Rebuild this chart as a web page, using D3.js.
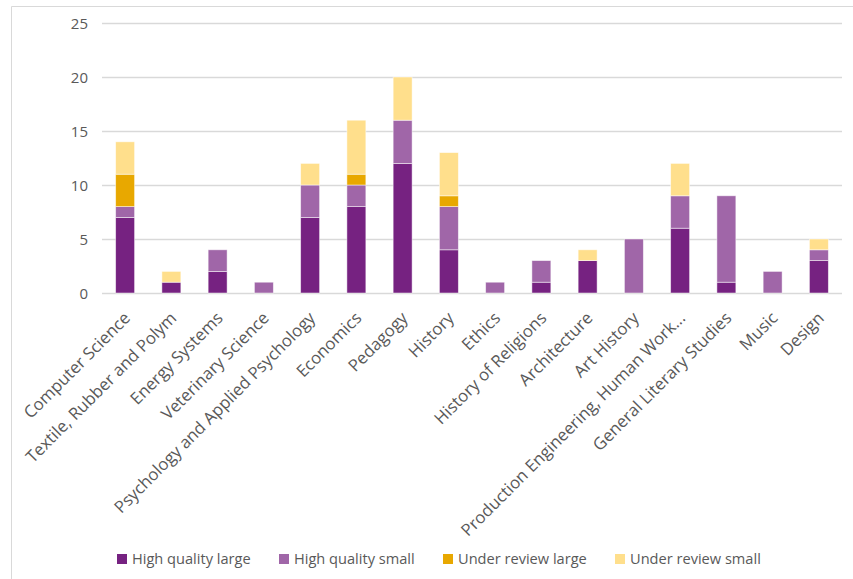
<!DOCTYPE html>
<html><head><meta charset="utf-8">
<script src="https://cdn.jsdelivr.net/npm/d3@7"></script>
<style>
body{margin:0;background:#fff;}
text{font-family:"Open Sans",sans-serif;fill:#595959;}
</style></head>
<body><svg id="c" width="853" height="579"></svg>
<script>
const categories = ["Computer Science","Textile, Rubber and Polym","Energy Systems","Veterinary Science","Psychology and Applied Psychology","Economics","Pedagogy","History","Ethics","History of Religions","Architecture","Art History","Production Engineering, Human Work...","General Literary Studies","Music","Design"];
const seriesNames = ["High quality large","High quality small","Under review large","Under review small"];
const highQualityLarge = [7,1,2,0,7,8,12,4,0,1,3,0,6,1,0,3];
const highQualitySmall = [1,0,2,1,3,2,4,4,1,2,0,5,3,8,2,1];
const underReviewLarge = [3,0,0,0,0,1,0,1,0,0,0,0,0,0,0,0];
const underReviewSmall = [3,1,0,0,2,5,4,4,0,0,1,0,3,0,0,1];
const yTicks = [0,5,10,15,20,25];
const colors = ["#762281","#a066a8","#e8a800","#ffdf8c"];

(function(){
const svg = d3.select("#c");
svg.append("path").attr("d","M11.5,579 V6.5 H853").attr("fill","none").attr("stroke","#d9d9d9").attr("stroke-width",1);

const pL=102, pR=842, pT=23, pB=293;
const x = d3.scaleBand().domain(categories).range([pL,pR]).paddingInner(0.59).paddingOuter(0.295);
const y = d3.scaleLinear().domain([0,25]).range([pB,pT]);

svg.append("g").selectAll("line").data(yTicks).join("line")
  .attr("x1",pL).attr("x2",pR).attr("y1",d=>Math.round(y(d))+0.5).attr("y2",d=>Math.round(y(d))+0.5)
  .attr("stroke","#d9d9d9").attr("stroke-width",1.3);

const yAxis = d3.axisLeft(y).tickValues(yTicks).tickSize(0).tickPadding(0);
const ya = svg.append("g").attr("transform",`translate(${pL-14},0)`).call(yAxis);
ya.select(".domain").remove();
ya.selectAll("text").style("font-size","15px").attr("fill","#595959").attr("dy","0.35em");

const table = categories.map((c,i)=>({cat:c,"High quality large":highQualityLarge[i],"High quality small":highQualitySmall[i],"Under review large":underReviewLarge[i],"Under review small":underReviewSmall[i]}));
const stack = d3.stack().keys(seriesNames)(table);

svg.append("g").selectAll("g").data(stack).join("g").attr("fill",(d,i)=>colors[i])
  .selectAll("rect").data(d=>d.filter(p=>p[1]-p[0]>0)).join("rect")
  .attr("x",d=>x(d.data.cat)).attr("width",x.bandwidth())
  .attr("y",d=>y(d[1])).attr("height",d=>y(d[0])-y(d[1]))
  .attr("stroke","#ffffff").attr("stroke-opacity",0.6).attr("stroke-width",0.8);

const xa = svg.append("g").attr("transform",`translate(0,${pB})`).call(d3.axisBottom(x).tickSize(0).tickPadding(0));
xa.select(".domain").remove();
xa.selectAll("text").style("font-size","16.8px").attr("fill","#595959")
  .attr("text-anchor","end").attr("dy","0.35em").attr("y",0).attr("x",0)
  .attr("transform","translate(2,22) rotate(-45)");

const legX = [117,279,443,615];
const leg = svg.append("g").selectAll("g").data(seriesNames).join("g")
  .attr("transform",(d,i)=>`translate(${legX[i]},559)`);
leg.append("rect").attr("x",0).attr("y",-5).attr("width",10).attr("height",10).attr("fill",(d,i)=>colors[i]);
leg.append("text").attr("x",15).attr("y",0).attr("dy","0.35em").style("font-size","14.6px").text(d=>d);
})();
</script></body></html>
